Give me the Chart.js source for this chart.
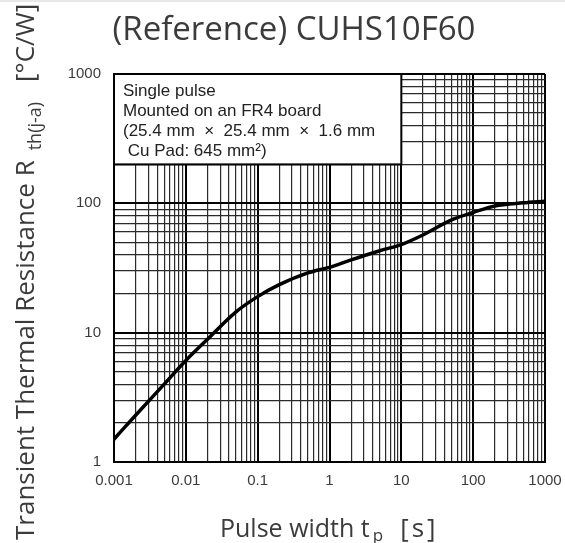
<!DOCTYPE html>
<html>
<head>
<meta charset="utf-8">
<title>CUHS10F60 transient thermal resistance</title>
<script src="https://cdn.jsdelivr.net/npm/chart.js@4.4.1/dist/chart.umd.min.js"></script>
<style>
    html, body { margin: 0; padding: 0; background: #ffffff; overflow: hidden; }
    .chart-wrap { position: relative; width: 565px; height: 543px; }
</style>
</head>
<body>
<div class="chart-wrap"><canvas id="thermalChart"></canvas></div>
<script>
// values (single pulse)
const pulseWidth = [0.001, 0.002, 0.005, 0.01, 0.02, 0.05, 0.1, 0.2, 0.5, 1, 2, 5, 10, 20, 50, 100, 200, 500, 1000];
const thermalResistance = [1.5, 2.3, 4.0, 6.1, 8.9, 14.5, 19, 23.5, 29, 32, 36.5, 43, 48, 57, 74.5, 85, 95.5, 101, 104];

const xDecades = [0.001, 0.01, 0.1, 1, 10, 100, 1000];
const xTickLabels = ['0.001', '0.01', '0.1', '1', '10', '100', '1000'];
const yDecades = [1, 10, 100, 1000];
const yTickLabels = ['1', '10', '100', '1000'];
const minorSteps = [1, 2, 3, 4, 5, 6, 7, 8, 9];

const noteLines = ['Single pulse', 'Mounted on an FR4 board', '(25.4 mm  \u00d7  25.4 mm  \u00d7  1.6 mm', ' Cu Pad: 645 mm\u00b2)'];
const noteRange = { xMin: 0.001, xMax: 10, yMin: 200, yMax: 1000 };

const TICK_FONT = { family: '"Liberation Sans", Arial, sans-serif', size: 15 };
const TEXT_COLOR = '#3b3b3b';

const gridValues = (decades) => {
    const values = [];
    decades.forEach((decade, index) => {
        if (index === decades.length - 1) {
            values.push(decade);
            return;
        }
        minorSteps.forEach((step) => values.push(Number((decade * step).toPrecision(4))));
    });
    return values;
};

const decadeIndex = (decades, value) => decades.findIndex((d) => Math.abs(value / d - 1) < 1e-6);

const gridStyle = (decades) => ({
    color: (ctx) => (ctx.tick && decadeIndex(decades, ctx.tick.value) >= 0 ? '#000000' : '#2a2a2a'),
    lineWidth: (ctx) => (ctx.tick && decadeIndex(decades, ctx.tick.value) >= 0 ? 2 : 1.2),
    drawTicks: false,
});

const noteBox = {
    id: 'noteBox',
    beforeDatasetsDraw(chart) {
        const { ctx, scales } = chart;
        const x0 = scales.x.getPixelForValue(noteRange.xMin);
        const x1 = scales.x.getPixelForValue(noteRange.xMax);
        const y0 = scales.y.getPixelForValue(noteRange.yMax);
        const y1 = scales.y.getPixelForValue(noteRange.yMin);

        ctx.save();
        ctx.fillStyle = '#ffffff';
        ctx.fillRect(x0, y0, x1 - x0, y1 - y0);
        ctx.strokeStyle = '#000000';
        ctx.lineWidth = 2;
        ctx.strokeRect(x0, y0, x1 - x0, y1 - y0);

        ctx.fillStyle = '#222222';
        ctx.font = '17px "Liberation Sans", Arial, sans-serif';
        ctx.textBaseline = 'alphabetic';
        ctx.textAlign = 'left';
        noteLines.forEach((line, i) => {
            ctx.fillText(line, x0 + 9, y0 + 22 + i * 20);
        });
        ctx.restore();
    },
};

const titles = {
    id: 'titles',
    afterDraw(chart) {
        const { ctx } = chart;
        ctx.save();

        // thin grey strip along the top edge
        ctx.fillStyle = '#e8e8ea';
        ctx.fillRect(0, 0, chart.width, 2);

        ctx.fillStyle = TEXT_COLOR;
        ctx.textBaseline = 'alphabetic';

        ctx.font = '33px "Open Sans", sans-serif';
        ctx.textAlign = 'center';
        ctx.fillText('(Reference) CUHS10F60', 294, 40);

        // x axis title with subscript
        ctx.textAlign = 'left';
        ctx.font = '25px "Open Sans", sans-serif';
        let x = 220;
        ctx.fillText('Pulse width t', x, 537);
        x += ctx.measureText('Pulse width t').width + 3;
        ctx.font = '17px "Open Sans", sans-serif';
        ctx.fillText('p', x, 541);
        x += ctx.measureText('p').width + 17;
        ctx.font = '26px "Open Sans", sans-serif';
        ctx.letterSpacing = '3px';
        ctx.fillText('[s]', x, 537);
        ctx.letterSpacing = '0px';

        // y axis title, rotated, with subscript
        ctx.translate(34, 540);
        ctx.rotate(-Math.PI / 2);
        ctx.font = '26px "Open Sans", sans-serif';
        let t = 0;
        ctx.fillText('Transient Thermal Resistance R', t, 0);
        t += ctx.measureText('Transient Thermal Resistance R').width + 10;
        ctx.font = '18px "Open Sans", sans-serif';
        ctx.fillText('th(j-a)', t, 7);
        t += ctx.measureText('th(j-a)').width + 20;
        ctx.font = '26px "Open Sans", sans-serif';
        ctx.fillText('[\u00b0C/W]', t, 0);

        ctx.restore();
    },
};

new Chart(document.getElementById('thermalChart'), {
    type: 'line',
    data: {
        datasets: [
            {
                label: 'Rth(j-a)',
                data: pulseWidth.map((tp, i) => ({ x: tp, y: thermalResistance[i] })),
                borderColor: '#000000',
                borderWidth: 3.5,
                pointRadius: 0,
                fill: false,
                cubicInterpolationMode: 'monotone',
            },
        ],
    },
    options: {
        responsive: true,
        maintainAspectRatio: false,
        animation: false,
        layout: {
            padding: { top: 74, right: 20, left: 0, bottom: 0 },
        },
        plugins: {
            legend: { display: false },
            tooltip: { enabled: false },
        },
        scales: {
            x: {
                type: 'logarithmic',
                min: 0.001,
                max: 1000,
                afterFit: (scale) => {
                    scale.height = 81;
                    scale.paddingLeft = 0;
                    scale.paddingRight = 0;
                },
                afterBuildTicks: (scale) => {
                    scale.ticks = gridValues(xDecades).map((value) => ({ value }));
                },
                ticks: {
                    autoSkip: false,
                    maxRotation: 0,
                    padding: 10,
                    color: TEXT_COLOR,
                    font: TICK_FONT,
                    callback: (value) => {
                        const i = decadeIndex(xDecades, value);
                        return i >= 0 ? xTickLabels[i] : '';
                    },
                },
                grid: gridStyle(xDecades),
                border: { display: true, color: '#000000', width: 2 },
            },
            y: {
                type: 'logarithmic',
                min: 1,
                max: 1000,
                afterFit: (scale) => {
                    scale.width = 114;
                    scale.paddingTop = 0;
                    scale.paddingBottom = 0;
                },
                afterBuildTicks: (scale) => {
                    scale.ticks = gridValues(yDecades).map((value) => ({ value }));
                },
                ticks: {
                    autoSkip: false,
                    padding: 13,
                    color: TEXT_COLOR,
                    font: TICK_FONT,
                    callback: (value) => {
                        const i = decadeIndex(yDecades, value);
                        return i >= 0 ? yTickLabels[i] : '';
                    },
                },
                grid: gridStyle(yDecades),
                border: { display: true, color: '#000000', width: 2 },
            },
        },
    },
    plugins: [noteBox, titles],
});
</script>
</body>
</html>
